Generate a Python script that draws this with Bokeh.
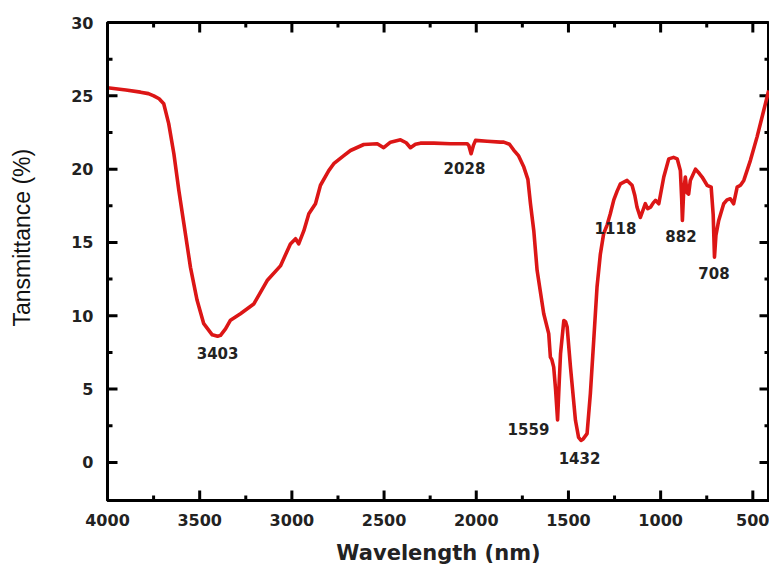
import math
from bokeh.plotting import figure
from bokeh.models import (Range1d, FixedTicker, LinearAxis, Title,
                          ColumnDataSource, CustomJSTickFormatter)
from bokeh.core.properties import value
from bokeh.embed import file_html
from bokeh.resources import INLINE

# ---- data ----
wavenumber = [4000, 3900, 3821, 3778, 3749, 3720, 3695, 3668, 3640, 3613, 3586,
              3550, 3514, 3478, 3432, 3403, 3387, 3360, 3333, 3279, 3207, 3134,
              3062, 3008, 2980, 2963, 2935, 2908, 2872, 2845, 2800, 2773, 2720,
              2682, 2610, 2537, 2502, 2465, 2411, 2380, 2357, 2330, 2303, 2230,
              2140, 2049, 2040, 2028, 2016, 2004, 1941, 1869, 1851, 1820, 1797,
              1770, 1742, 1720, 1706, 1688, 1670, 1634, 1607, 1598, 1590, 1580,
              1570, 1559, 1550, 1543, 1525, 1516, 1507, 1489, 1462, 1445, 1432,
              1420, 1399, 1381, 1363, 1345, 1327, 1309, 1290, 1273, 1254, 1236,
              1218, 1182, 1155, 1140, 1128, 1110, 1083, 1070, 1055, 1040, 1028,
              1010, 983, 956, 930, 910, 893, 886, 882, 875, 866, 857, 848, 839,
              811, 790, 775, 748, 726, 715, 708, 700, 685, 658, 640, 622, 604,
              585, 567, 549, 513, 477, 441, 414]
transmittance = [25.55, 25.4, 25.25, 25.15, 25.0, 24.8, 24.46, 23.1, 21.05, 18.55,
                 16.3, 13.3, 11.05, 9.46, 8.7, 8.6, 8.66, 9.1, 9.7, 10.14, 10.8,
                 12.4, 13.4, 14.9, 15.25, 14.9, 15.8, 16.96, 17.64, 18.9, 19.9,
                 20.37, 20.9, 21.27, 21.68, 21.73, 21.46, 21.84, 22.0, 21.8, 21.46,
                 21.7, 21.77, 21.77, 21.73, 21.73, 21.6, 21.05, 21.6, 21.96, 21.9,
                 21.84, 21.84, 21.7, 21.3, 20.9, 20.14, 19.3, 17.64, 15.8, 13.1,
                 10.14, 8.78, 7.18, 7.0, 6.5, 5.0, 2.9, 5.5, 7.4, 9.68, 9.6, 9.23,
                 6.5, 2.87, 1.7, 1.5, 1.6, 1.96, 4.7, 8.3, 11.96, 14.2, 15.6, 16.2,
                 16.96, 17.9, 18.5, 19.0, 19.23, 18.9, 18.2, 17.4, 16.7, 17.64,
                 17.3, 17.4, 17.7, 17.87, 17.64, 19.46, 20.7, 20.8, 20.7, 19.9,
                 18.0, 16.5, 18.5, 19.46, 18.4, 18.3, 19.23, 20.0, 19.7, 19.46,
                 18.9, 18.77, 16.9, 14.0, 15.5, 16.5, 17.64, 17.9, 17.98, 17.64,
                 18.77, 18.9, 19.23, 20.6, 22.2, 24.0, 25.36]

peak_text = ["3403", "2028", "1559", "1432", "1118", "882", "708"]
peak_label_x = [3403, 2064, 1717, 1440, 1245, 890, 711]
peak_label_y = [7.44, 20.05, 2.26, 0.31, 15.96, 15.41, 12.92]

x_major_ticks = [4000, 3500, 3000, 2500, 2000, 1500, 1000, 500]
x_minor_ticks = [3750, 3250, 2750, 2250, 1750, 1250, 750]
y_major_ticks = [0, 5, 10, 15, 20, 25, 30]
y_minor_ticks = [2.5, 7.5, 12.5, 17.5, 22.5, 27.5]

x_title = "Wavelength (nm)"
y_title = "Tansmittance (%)"

# ---- figure ----
PX_PER_X = 0.18438           # screen px per wavenumber unit
LEFT, TOP, BOTTOM = 107, 22, 66
W, H = 769, 567
frame_w = W - LEFT
frame_h = H - TOP - BOTTOM
x_start = 4000
x_end = 4000 - frame_w / PX_PER_X
y_start, y_end = -2.6, 30
PX_PER_Y = frame_h / (y_end - y_start)

p = figure(width=W, height=H, output_backend="svg", toolbar_location=None,
           x_range=Range1d(x_start, x_end), y_range=Range1d(y_start, y_end),
           min_border_left=LEFT, min_border_right=0, min_border_top=TOP,
           min_border_bottom=BOTTOM)
p.background_fill_color = "white"
p.border_fill_color = "white"
p.grid.visible = False
p.outline_line_color = "black"
p.outline_line_width = 3

tick_font = "DejaVu Sans"

for ax in (p.xaxis[0], p.yaxis[0]):
    ax.axis_line_width = 3
    ax.axis_line_color = "black"
    ax.major_tick_in = 0
    ax.major_tick_out = 0
    ax.minor_tick_in = 0
    ax.minor_tick_out = 0
    ax.major_tick_line_color = None
    ax.minor_tick_line_color = None
    ax.major_label_text_font = tick_font
    ax.major_label_text_font_style = "bold"
    ax.major_label_text_font_size = "16px"
    ax.major_label_text_color = "#222222"

p.xaxis.ticker = FixedTicker(ticks=x_major_ticks)
p.yaxis.ticker = FixedTicker(ticks=y_major_ticks)
p.xaxis.major_label_standoff = 13
p.yaxis.major_label_standoff = 14

p.xaxis.axis_label = x_title
p.xaxis.axis_label_text_font = tick_font
p.xaxis.axis_label_text_font_style = "bold"
p.xaxis.axis_label_text_font_size = "21px"
p.xaxis.axis_label_text_color = "#222222"
p.xaxis.axis_label_standoff = 12

# invisible spacer axis so the y title sits far left, as in the reference
blank = CustomJSTickFormatter(code="return ''")
spacer = LinearAxis(ticker=FixedTicker(ticks=[10]), axis_line_color=None,
                    major_tick_line_color="white", minor_tick_line_color=None,
                    major_tick_in=0, major_tick_out=28, minor_tick_in=0,
                    minor_tick_out=0, major_label_standoff=0, formatter=blank)
p.add_layout(spacer, "left")
p.add_layout(Title(text=y_title, align="left", offset=174,
                   vertical_align="middle", standoff=10,
                   text_font="Liberation Sans", text_font_size="23px",
                   text_font_style="normal", text_color="#111111"), "left")

# inward ticks on all four sides, lengths given in screen pixels
MAJ, MIN = 10, 5
for ticks, L in ((x_major_ticks, MAJ), (x_minor_ticks, MIN)):
    ly = L / PX_PER_Y
    n = len(ticks)
    p.segment(x0=ticks, y0=[y_start] * n, x1=ticks, y1=[y_start + ly] * n,
              line_color="black", line_width=3)
    p.segment(x0=ticks, y0=[y_end] * n, x1=ticks, y1=[y_end - ly] * n,
              line_color="black", line_width=3)
for ticks, L in ((y_major_ticks, MAJ), (y_minor_ticks, MIN)):
    lx = L / PX_PER_X
    n = len(ticks)
    p.segment(x0=[x_start] * n, y0=ticks, x1=[x_start - lx] * n, y1=ticks,
              line_color="black", line_width=3)
    p.segment(x0=[x_end] * n, y0=ticks, x1=[x_end + lx] * n, y1=ticks,
              line_color="black", line_width=3)

p.line(wavenumber, transmittance, line_color="#dc1616", line_width=3.6,
       line_join="round")

src = ColumnDataSource(dict(x=peak_label_x, y=peak_label_y, t=peak_text))
p.text(x="x", y="y", text="t", source=src, text_font=value(tick_font),
       text_font_style="bold", text_font_size="15px", text_color="#222222",
       text_align="center", text_baseline="middle")

open("out.html", "w").write(file_html(p, INLINE))
